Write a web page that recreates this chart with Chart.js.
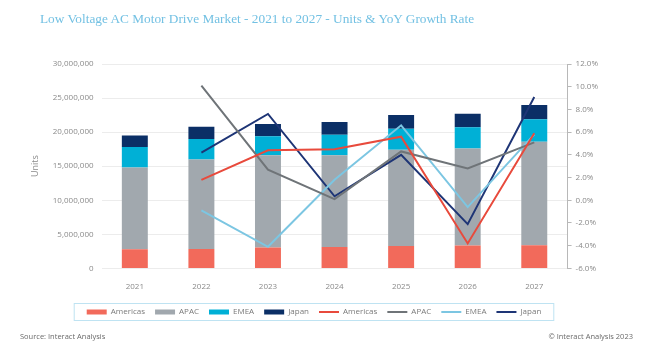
<!DOCTYPE html>
<html>
<head>
<meta charset="utf-8">
<script src="https://cdn.jsdelivr.net/npm/chart.js@4"></script>
<style>
  html, body { margin: 0; padding: 0; background: #fff; }
  #wrap { position: relative; width: 645px; height: 350px; }
  .title { position: absolute; left: 40px; top: 11px; font: 13.3px 'Liberation Serif', serif; color: #73c1e3; white-space: nowrap; }
  .foot { position: absolute; top: 331px; font: 7.5px 'Open Sans', sans-serif; color: #6a6a6a; }
</style>
</head>
<body>
<div id="wrap">
  <canvas id="myChart" width="645" height="350"></canvas>
  <div class="title">Low Voltage AC Motor Drive Market - 2021 to 2027 - Units &amp; YoY Growth Rate</div>
  <div class="foot" style="left:20px;">Source: Interact Analysis</div>
  <div class="foot" style="right:12px;">© Interact Analysis 2023</div>
</div>
<script>
const years = ['2021', '2022', '2023', '2024', '2025', '2026', '2027'];

// units (stacked bars, left axis)
const unitsAmericas = [2800000, 2850000, 3050000, 3150000, 3300000, 3350000, 3400000];
const unitsApac = [12000000, 13150000, 13550000, 13450000, 14100000, 14250000, 15200000];
const unitsEmea = [3000000, 3000000, 2800000, 3000000, 3100000, 3100000, 3300000];
const unitsJapan = [1700000, 1800000, 1800000, 1900000, 2000000, 2000000, 2100000];

// YoY growth % (lines, right axis)
const yoyAmericas = [null, 1.8, 4.4, 4.5, 5.6, -3.8, 5.9];
const yoyApac = [null, 10.1, 2.7, 0.1, 4.3, 2.8, 5.1];
const yoyEmea = [null, -0.9, -4.1, 1.8, 6.6, -0.6, 5.8];
const yoyJapan = [null, 4.2, 7.6, 0.35, 4.0, -2.1, 9.1];

const gray = '#8a8a8a';

const ctx = document.getElementById('myChart').getContext('2d');
const myChart = new Chart(ctx, {
    data: {
        labels: years,
        datasets: [
            { type: 'bar', label: 'Americas', data: unitsAmericas, backgroundColor: '#f26a5b', yAxisID: 'y', order: 1 },
            { type: 'bar', label: 'APAC', data: unitsApac, backgroundColor: '#a1a8ae', yAxisID: 'y', order: 1 },
            { type: 'bar', label: 'EMEA', data: unitsEmea, backgroundColor: '#00b0d6', yAxisID: 'y', order: 1 },
            { type: 'bar', label: 'Japan', data: unitsJapan, backgroundColor: '#0b2f66', yAxisID: 'y', order: 1 },
            { type: 'line', label: 'Americas', data: yoyAmericas, borderColor: '#e84a3c', backgroundColor: '#e84a3c', yAxisID: 'y1', order: 0 },
            { type: 'line', label: 'APAC', data: yoyApac, borderColor: '#6f7478', backgroundColor: '#6f7478', yAxisID: 'y1', order: 0 },
            { type: 'line', label: 'EMEA', data: yoyEmea, borderColor: '#7cc6e2', backgroundColor: '#7cc6e2', yAxisID: 'y1', order: 0 },
            { type: 'line', label: 'Japan', data: yoyJapan, borderColor: '#1e3576', backgroundColor: '#1e3576', yAxisID: 'y1', order: 0 }
        ]
    },
    options: {
        responsive: false,
        animation: false,
        datasets: {
            bar: { categoryPercentage: 1, barPercentage: 0.39, borderWidth: 0 },
            line: { borderWidth: 2, pointRadius: 0, tension: 0, spanGaps: false }
        },
        layout: { padding: { left: 26, right: 43, top: 64, bottom: 24 } },
        scales: {
            x: {
                stacked: true,
                grid: { display: false },
                border: { display: false },
                ticks: { color: gray, font: { family: 'Open Sans', size: 8 }, padding: 6 }
            },
            y: {
                stacked: true,
                position: 'left',
                min: 0,
                max: 30000000,
                ticks: {
                    stepSize: 5000000,
                    color: gray,
                    font: { family: 'Open Sans', size: 8 },
                    padding: 8,
                    callback: v => v.toLocaleString('en-US')
                },
                grid: { color: '#ececec', drawTicks: false },
                border: { display: false },
                title: { display: true, text: 'Units', color: gray, font: { family: 'Open Sans', size: 9 } }
            },
            y1: {
                position: 'right',
                min: -6,
                max: 12,
                ticks: {
                    stepSize: 2,
                    color: gray,
                    font: { family: 'Open Sans', size: 8 },
                    padding: 4,
                    callback: v => v.toFixed(1) + '%'
                },
                grid: { drawOnChartArea: false, tickLength: 4, color: '#b8b8b8' },
                border: { display: true, color: '#b8b8b8' }
            }
        },
        plugins: {
            legend: {
                position: 'bottom',
                labels: {
                    color: '#7a7a7a',
                    font: { family: 'Open Sans', size: 8 },
                    usePointStyle: true,
                    pointStyleWidth: 20,
                    boxHeight: 5,
                    padding: 10,
                    sort: (a, b) => a.datasetIndex - b.datasetIndex,
                    generateLabels: (chart) => {
                        const items = Chart.defaults.plugins.legend.labels.generateLabels(chart);
                        items.forEach(it => {
                            const ds = chart.data.datasets[it.datasetIndex];
                            if (ds.type === 'line') {
                                it.pointStyle = 'line';
                                it.lineWidth = 2;
                                it.strokeStyle = ds.borderColor;
                            } else {
                                it.pointStyle = 'rect';
                                it.lineWidth = 0;
                            }
                        });
                        return items;
                    }
                }
            },
            tooltip: { enabled: false }
        }
    },
    plugins: [{
        id: 'legend-border',
        afterDraw: (chart) => {
            const boxes = chart.legend.legendHitBoxes;
            if (!boxes || !boxes.length) return;
            const first = boxes[0], last = boxes[boxes.length - 1];
            const c = chart.ctx;
            c.save();
            c.strokeStyle = '#bfe3f2';
            c.lineWidth = 1;
            c.strokeRect(first.left - 12.5, first.top - 4.5, last.left + last.width - first.left + 25, first.height + 9);
            c.restore();
        }
    }]
});
</script>
</body>
</html>
